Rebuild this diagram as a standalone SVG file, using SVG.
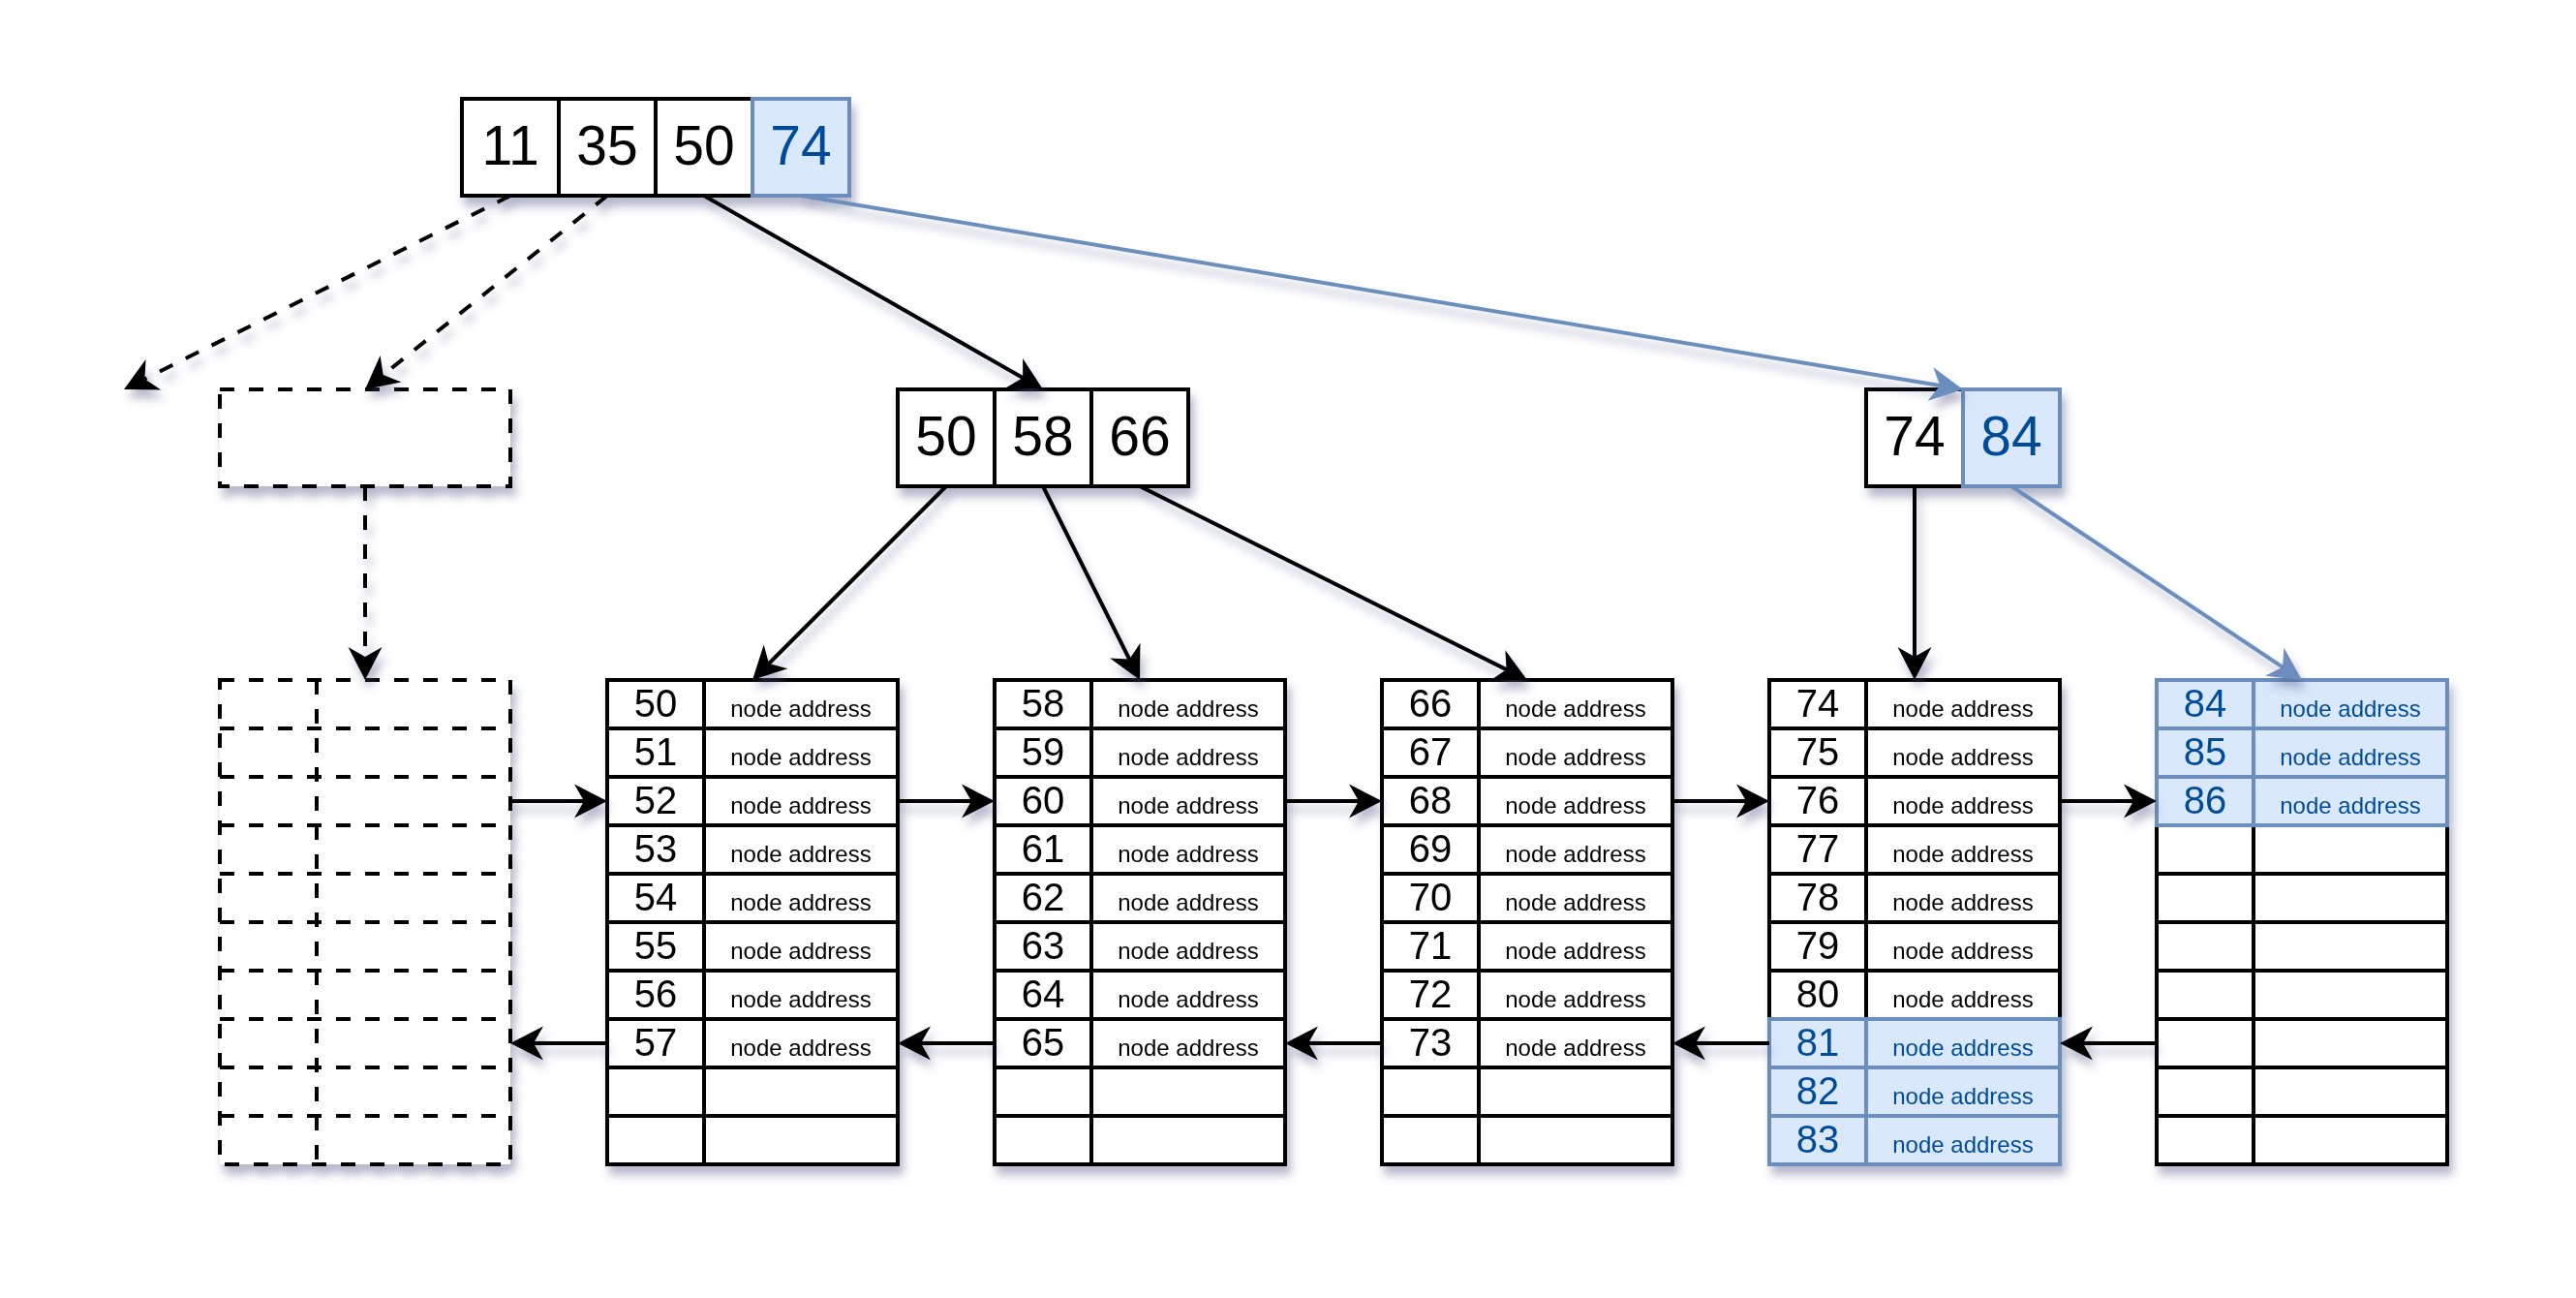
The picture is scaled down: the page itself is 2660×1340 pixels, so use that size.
<svg xmlns="http://www.w3.org/2000/svg" width="2660" height="1340" viewBox="0 0 2660 1340">
<style>
text{font-family:"Liberation Sans",Arial,Helvetica,sans-serif;text-anchor:middle;fill:#000}
.k{font-size:40px}
.a{font-size:24px}
.g{font-size:57px}
.bt{fill:#004C99}
.c{fill:#fff;stroke:#000;stroke-width:4}
.b{fill:#dae8fc;stroke:#6c8ebf;stroke-width:4}
.d{fill:#fff;stroke:#000;stroke-width:4;stroke-dasharray:15 15}
.dl{fill:none;stroke:#000;stroke-width:4;stroke-dasharray:15 15}
.e{fill:none;stroke:#000;stroke-width:4;marker-end:url(#ah)}
.ed{fill:none;stroke:#000;stroke-width:4;stroke-dasharray:15 15;marker-end:url(#ah)}
.eb{fill:none;stroke:#6c8ebf;stroke-width:4;marker-end:url(#ahb)}
</style>
<defs>
<filter id="sh" filterUnits="userSpaceOnUse" x="0" y="0" width="2660" height="1340">
<feDropShadow dx="4" dy="9" stdDeviation="5" flood-color="#4a4f80" flood-opacity="0.4"/>
</filter>
<marker id="ah" markerUnits="userSpaceOnUse" markerWidth="40" markerHeight="40" viewBox="0 -20 40 40" refX="22" refY="0" orient="auto"><path d="M34,0 L0,-17.5 L10,0 L0,17.5 Z" fill="#000"/></marker>
<marker id="ahb" markerUnits="userSpaceOnUse" markerWidth="40" markerHeight="40" viewBox="0 -20 40 40" refX="22" refY="0" orient="auto"><path d="M34,0 L0,-17.5 L10,0 L0,17.5 Z" fill="#6c8ebf"/></marker>
</defs>
<rect width="2660" height="1340" fill="#fff"/>

<g id="root" filter="url(#sh)">
<rect class="c" x="477" y="102" width="100" height="100"/>
<rect class="c" x="577" y="102" width="100" height="100"/>
<rect class="c" x="677" y="102" width="100" height="100"/>
<rect class="b" x="777" y="102" width="100" height="100"/>
<text class="g" x="527" y="170">11</text>
<text class="g" x="627" y="170">35</text>
<text class="g" x="727" y="170">50</text>
<text class="g bt" x="827" y="170">74</text>
</g>

<g id="inner-empty" filter="url(#sh)">
<rect class="d" x="227" y="402" width="300" height="100"/>
</g>

<g id="inner-50" filter="url(#sh)">
<rect class="c" x="927" y="402" width="100" height="100"/>
<rect class="c" x="1027" y="402" width="100" height="100"/>
<rect class="c" x="1127" y="402" width="100" height="100"/>
<text class="g" x="977" y="470">50</text>
<text class="g" x="1077" y="470">58</text>
<text class="g" x="1177" y="470">66</text>
</g>

<g id="inner-74" filter="url(#sh)">
<rect class="c" x="1927" y="402" width="100" height="100"/>
<rect class="b" x="2027" y="402" width="100" height="100"/>
<text class="g" x="1977" y="470">74</text>
<text class="g bt" x="2077" y="470">84</text>
</g>

<g id="leaf-empty" filter="url(#sh)">
<rect class="d" x="227" y="702" width="300" height="500"/>
<path class="dl" d="M227,752 H527 M227,802 H527 M227,852 H527 M227,902 H527 M227,952 H527 M227,1002 H527 M227,1052 H527 M227,1102 H527 M227,1152 H527 M327,702 V1202"/>
</g>

<g id="leaf-50" filter="url(#sh)">
<rect class="c" x="627" y="702" width="100" height="50"/><rect class="c" x="727" y="702" width="200" height="50"/>
<rect class="c" x="627" y="752" width="100" height="50"/><rect class="c" x="727" y="752" width="200" height="50"/>
<rect class="c" x="627" y="802" width="100" height="50"/><rect class="c" x="727" y="802" width="200" height="50"/>
<rect class="c" x="627" y="852" width="100" height="50"/><rect class="c" x="727" y="852" width="200" height="50"/>
<rect class="c" x="627" y="902" width="100" height="50"/><rect class="c" x="727" y="902" width="200" height="50"/>
<rect class="c" x="627" y="952" width="100" height="50"/><rect class="c" x="727" y="952" width="200" height="50"/>
<rect class="c" x="627" y="1002" width="100" height="50"/><rect class="c" x="727" y="1002" width="200" height="50"/>
<rect class="c" x="627" y="1052" width="100" height="50"/><rect class="c" x="727" y="1052" width="200" height="50"/>
<rect class="c" x="627" y="1102" width="100" height="50"/><rect class="c" x="727" y="1102" width="200" height="50"/>
<rect class="c" x="627" y="1152" width="100" height="50"/><rect class="c" x="727" y="1152" width="200" height="50"/>
<text class="k" x="677" y="740">50</text><text class="a" x="827" y="740">node address</text>
<text class="k" x="677" y="790">51</text><text class="a" x="827" y="790">node address</text>
<text class="k" x="677" y="840">52</text><text class="a" x="827" y="840">node address</text>
<text class="k" x="677" y="890">53</text><text class="a" x="827" y="890">node address</text>
<text class="k" x="677" y="940">54</text><text class="a" x="827" y="940">node address</text>
<text class="k" x="677" y="990">55</text><text class="a" x="827" y="990">node address</text>
<text class="k" x="677" y="1040">56</text><text class="a" x="827" y="1040">node address</text>
<text class="k" x="677" y="1090">57</text><text class="a" x="827" y="1090">node address</text>
</g>

<g id="leaf-58" filter="url(#sh)">
<rect class="c" x="1027" y="702" width="100" height="50"/><rect class="c" x="1127" y="702" width="200" height="50"/>
<rect class="c" x="1027" y="752" width="100" height="50"/><rect class="c" x="1127" y="752" width="200" height="50"/>
<rect class="c" x="1027" y="802" width="100" height="50"/><rect class="c" x="1127" y="802" width="200" height="50"/>
<rect class="c" x="1027" y="852" width="100" height="50"/><rect class="c" x="1127" y="852" width="200" height="50"/>
<rect class="c" x="1027" y="902" width="100" height="50"/><rect class="c" x="1127" y="902" width="200" height="50"/>
<rect class="c" x="1027" y="952" width="100" height="50"/><rect class="c" x="1127" y="952" width="200" height="50"/>
<rect class="c" x="1027" y="1002" width="100" height="50"/><rect class="c" x="1127" y="1002" width="200" height="50"/>
<rect class="c" x="1027" y="1052" width="100" height="50"/><rect class="c" x="1127" y="1052" width="200" height="50"/>
<rect class="c" x="1027" y="1102" width="100" height="50"/><rect class="c" x="1127" y="1102" width="200" height="50"/>
<rect class="c" x="1027" y="1152" width="100" height="50"/><rect class="c" x="1127" y="1152" width="200" height="50"/>
<text class="k" x="1077" y="740">58</text><text class="a" x="1227" y="740">node address</text>
<text class="k" x="1077" y="790">59</text><text class="a" x="1227" y="790">node address</text>
<text class="k" x="1077" y="840">60</text><text class="a" x="1227" y="840">node address</text>
<text class="k" x="1077" y="890">61</text><text class="a" x="1227" y="890">node address</text>
<text class="k" x="1077" y="940">62</text><text class="a" x="1227" y="940">node address</text>
<text class="k" x="1077" y="990">63</text><text class="a" x="1227" y="990">node address</text>
<text class="k" x="1077" y="1040">64</text><text class="a" x="1227" y="1040">node address</text>
<text class="k" x="1077" y="1090">65</text><text class="a" x="1227" y="1090">node address</text>
</g>

<g id="leaf-66" filter="url(#sh)">
<rect class="c" x="1427" y="702" width="100" height="50"/><rect class="c" x="1527" y="702" width="200" height="50"/>
<rect class="c" x="1427" y="752" width="100" height="50"/><rect class="c" x="1527" y="752" width="200" height="50"/>
<rect class="c" x="1427" y="802" width="100" height="50"/><rect class="c" x="1527" y="802" width="200" height="50"/>
<rect class="c" x="1427" y="852" width="100" height="50"/><rect class="c" x="1527" y="852" width="200" height="50"/>
<rect class="c" x="1427" y="902" width="100" height="50"/><rect class="c" x="1527" y="902" width="200" height="50"/>
<rect class="c" x="1427" y="952" width="100" height="50"/><rect class="c" x="1527" y="952" width="200" height="50"/>
<rect class="c" x="1427" y="1002" width="100" height="50"/><rect class="c" x="1527" y="1002" width="200" height="50"/>
<rect class="c" x="1427" y="1052" width="100" height="50"/><rect class="c" x="1527" y="1052" width="200" height="50"/>
<rect class="c" x="1427" y="1102" width="100" height="50"/><rect class="c" x="1527" y="1102" width="200" height="50"/>
<rect class="c" x="1427" y="1152" width="100" height="50"/><rect class="c" x="1527" y="1152" width="200" height="50"/>
<text class="k" x="1477" y="740">66</text><text class="a" x="1627" y="740">node address</text>
<text class="k" x="1477" y="790">67</text><text class="a" x="1627" y="790">node address</text>
<text class="k" x="1477" y="840">68</text><text class="a" x="1627" y="840">node address</text>
<text class="k" x="1477" y="890">69</text><text class="a" x="1627" y="890">node address</text>
<text class="k" x="1477" y="940">70</text><text class="a" x="1627" y="940">node address</text>
<text class="k" x="1477" y="990">71</text><text class="a" x="1627" y="990">node address</text>
<text class="k" x="1477" y="1040">72</text><text class="a" x="1627" y="1040">node address</text>
<text class="k" x="1477" y="1090">73</text><text class="a" x="1627" y="1090">node address</text>
</g>

<g id="leaf-74" filter="url(#sh)">
<rect class="c" x="1827" y="702" width="100" height="50"/><rect class="c" x="1927" y="702" width="200" height="50"/>
<rect class="c" x="1827" y="752" width="100" height="50"/><rect class="c" x="1927" y="752" width="200" height="50"/>
<rect class="c" x="1827" y="802" width="100" height="50"/><rect class="c" x="1927" y="802" width="200" height="50"/>
<rect class="c" x="1827" y="852" width="100" height="50"/><rect class="c" x="1927" y="852" width="200" height="50"/>
<rect class="c" x="1827" y="902" width="100" height="50"/><rect class="c" x="1927" y="902" width="200" height="50"/>
<rect class="c" x="1827" y="952" width="100" height="50"/><rect class="c" x="1927" y="952" width="200" height="50"/>
<rect class="c" x="1827" y="1002" width="100" height="50"/><rect class="c" x="1927" y="1002" width="200" height="50"/>
<rect class="b" x="1827" y="1052" width="100" height="50"/><rect class="b" x="1927" y="1052" width="200" height="50"/>
<rect class="b" x="1827" y="1102" width="100" height="50"/><rect class="b" x="1927" y="1102" width="200" height="50"/>
<rect class="b" x="1827" y="1152" width="100" height="50"/><rect class="b" x="1927" y="1152" width="200" height="50"/>
<text class="k" x="1877" y="740">74</text><text class="a" x="2027" y="740">node address</text>
<text class="k" x="1877" y="790">75</text><text class="a" x="2027" y="790">node address</text>
<text class="k" x="1877" y="840">76</text><text class="a" x="2027" y="840">node address</text>
<text class="k" x="1877" y="890">77</text><text class="a" x="2027" y="890">node address</text>
<text class="k" x="1877" y="940">78</text><text class="a" x="2027" y="940">node address</text>
<text class="k" x="1877" y="990">79</text><text class="a" x="2027" y="990">node address</text>
<text class="k" x="1877" y="1040">80</text><text class="a" x="2027" y="1040">node address</text>
<text class="k bt" x="1877" y="1090">81</text><text class="a bt" x="2027" y="1090">node address</text>
<text class="k bt" x="1877" y="1140">82</text><text class="a bt" x="2027" y="1140">node address</text>
<text class="k bt" x="1877" y="1190">83</text><text class="a bt" x="2027" y="1190">node address</text>
</g>

<g id="leaf-84" filter="url(#sh)">
<rect class="c" x="2227" y="852" width="100" height="50"/><rect class="c" x="2327" y="852" width="200" height="50"/>
<rect class="c" x="2227" y="902" width="100" height="50"/><rect class="c" x="2327" y="902" width="200" height="50"/>
<rect class="c" x="2227" y="952" width="100" height="50"/><rect class="c" x="2327" y="952" width="200" height="50"/>
<rect class="c" x="2227" y="1002" width="100" height="50"/><rect class="c" x="2327" y="1002" width="200" height="50"/>
<rect class="c" x="2227" y="1052" width="100" height="50"/><rect class="c" x="2327" y="1052" width="200" height="50"/>
<rect class="c" x="2227" y="1102" width="100" height="50"/><rect class="c" x="2327" y="1102" width="200" height="50"/>
<rect class="c" x="2227" y="1152" width="100" height="50"/><rect class="c" x="2327" y="1152" width="200" height="50"/>
<rect class="b" x="2227" y="702" width="100" height="50"/><rect class="b" x="2327" y="702" width="200" height="50"/>
<rect class="b" x="2227" y="752" width="100" height="50"/><rect class="b" x="2327" y="752" width="200" height="50"/>
<rect class="b" x="2227" y="802" width="100" height="50"/><rect class="b" x="2327" y="802" width="200" height="50"/>
<text class="k bt" x="2277" y="740">84</text><text class="a bt" x="2427" y="740">node address</text>
<text class="k bt" x="2277" y="790">85</text><text class="a bt" x="2427" y="790">node address</text>
<text class="k bt" x="2277" y="840">86</text><text class="a bt" x="2427" y="840">node address</text>
</g>

<g id="connectors" filter="url(#sh)">
<path class="ed" d="M527,202 L138.73,396.62"/>
<path class="ed" d="M627,202 L386.37,394.5"/>
<path class="e" d="M727,202 L1066.58,396.05"/>
<path class="eb" d="M827,202 L2015.16,400.03"/>
<path class="ed" d="M377,502 L377,690"/>
<path class="e" d="M977,502 L785.49,693.51"/>
<path class="e" d="M1077,502 L1171.63,691.27"/>
<path class="e" d="M1177,502 L1566.27,696.63"/>
<path class="e" d="M1977,502 L1977,690"/>
<path class="eb" d="M2077,502 L2367.02,695.34"/>
<path class="e" d="M527,827 L615,827"/>
<path class="e" d="M927,827 L1015,827"/>
<path class="e" d="M1327,827 L1415,827"/>
<path class="e" d="M1727,827 L1815,827"/>
<path class="e" d="M2127,827 L2215,827"/>
<path class="e" d="M627,1077 L539,1077"/>
<path class="e" d="M1027,1077 L939,1077"/>
<path class="e" d="M1427,1077 L1339,1077"/>
<path class="e" d="M1827,1077 L1739,1077"/>
<path class="e" d="M2227,1077 L2139,1077"/>
</g>
</svg>
